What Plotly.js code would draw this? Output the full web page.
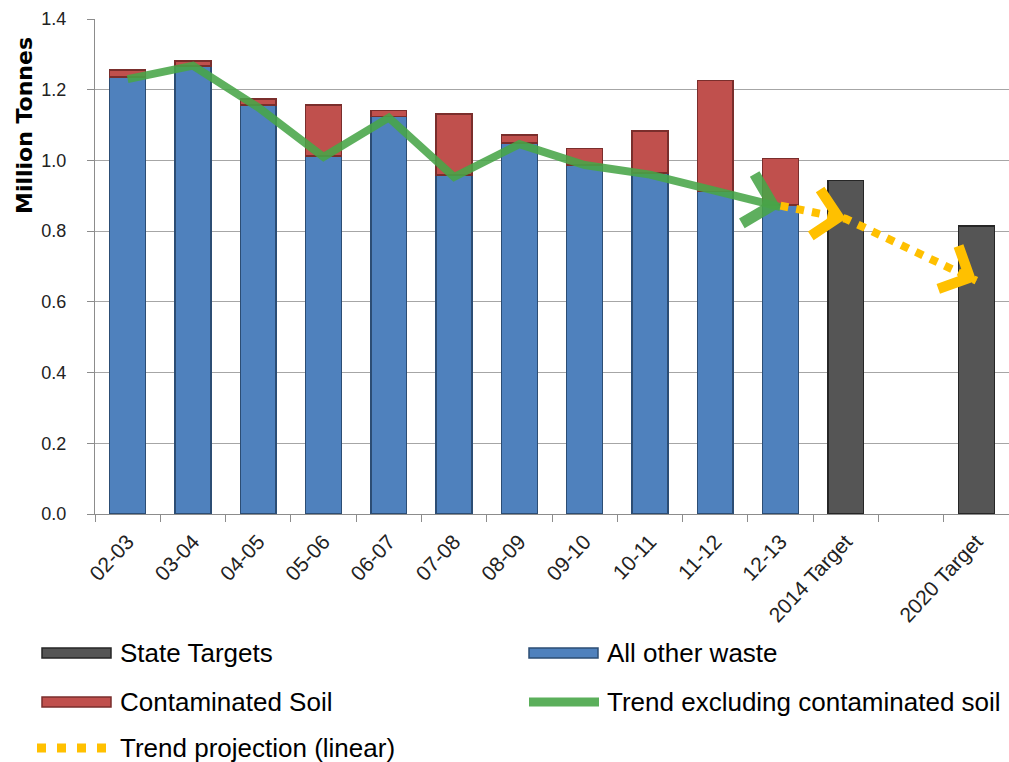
<!DOCTYPE html>
<html>
<head>
<meta charset="utf-8">
<script src="https://cdn.plot.ly/plotly-3.0.1.min.js"></script>
<style>html,body{margin:0;padding:0;background:#fff;}#chart{width:1009px;height:762px;}</style>
</head>
<body>
<div id="chart"></div>
<script>
// ---- data ----
const categories = ['02-03','03-04','04-05','05-06','06-07','07-08','08-09','09-10','10-11','11-12','12-13','2014 Target',' ','2020 Target'];
const yearCats = ['02-03','03-04','04-05','05-06','06-07','07-08','08-09','09-10','10-11','11-12','12-13'];
const allOtherWaste = [1.236,1.267,1.157,1.012,1.124,0.959,1.050,0.987,0.964,0.912,0.874];
const contaminatedSoil = [0.020,0.014,0.017,0.145,0.017,0.172,0.022,0.047,0.119,0.314,0.132];
const targetCats = ['2014 Target','2020 Target'];
const stateTargets = [0.943,0.815];
const trendExclSoil = [1.230,1.268,1.150,1.010,1.121,0.953,1.046,0.987,0.960,0.916,0.868];
const projCats = ['12-13','2014 Target','2020 Target'];
const trendProjection = [0.872,0.835,0.660];
const legendNames = ['State Targets','All other waste','Contaminated Soil','Trend excluding contaminated soil','Trend projection (linear)'];

const FONT = 'Liberation Sans, Arial, sans-serif';
const BLUE = '#4F81BD', BLUE_D = '#2C4D74';
const RED = '#C0504D', RED_D = '#7A2E2C';
const GREY = '#555555', GREY_D = '#262626';
const GREEN = 'rgba(72,165,72,0.88)';
const YELLOW = '#FFC000';

const traces = [
  {type:'bar', name:legendNames[1], x:yearCats, y:allOtherWaste, showlegend:false,
   marker:{color:BLUE, line:{color:BLUE_D, width:1.5}}},
  {type:'bar', name:legendNames[2], x:yearCats, y:contaminatedSoil, showlegend:false,
   marker:{color:RED, line:{color:RED_D, width:1.5}}},
  {type:'bar', name:legendNames[0], x:targetCats, y:stateTargets, showlegend:false,
   marker:{color:GREY, line:{color:GREY_D, width:1.5}}},
  {type:'scatter', mode:'lines', name:legendNames[3], x:yearCats, y:trendExclSoil, showlegend:false,
   line:{color:GREEN, width:8}},
  {type:'scatter', mode:'lines', name:legendNames[4], x:projCats, y:trendProjection, showlegend:false,
   line:{color:YELLOW, width:8, dash:'dot'}}
];

function arrowAt(xs, ys, i, color, width, size){
  const i2 = categories.indexOf(xs[i]);
  const i1 = categories.indexOf(xs[i-1]);
  const f = 0.3/(i2-i1);
  return {x:i2, y:ys[i], ax:i2 - f*(i2-i1), ay:ys[i] - f*(ys[i]-ys[i-1]),
    xref:'x', yref:'y', axref:'x', ayref:'y', text:'', showarrow:true,
    arrowhead:4, arrowsize:size, arrowwidth:width, arrowcolor:color};
}

// plot area: x 95..1009 px, y 19..514 px
const PX = px => (px-95)/914;
const PY = py => (514-py)/495;

const annotations = [
  arrowAt(yearCats, trendExclSoil, yearCats.length-1, GREEN, 7, 1.4),
  arrowAt(projCats, trendProjection, 1, YELLOW, 7, 1.3),
  arrowAt(projCats, trendProjection, 2, YELLOW, 7, 1.3),
  {text:'<b>Million Tonnes</b>', xref:'paper', yref:'paper', x:PX(25), y:PY(126), textangle:-90,
   showarrow:false, font:{family:'DejaVu Sans, Verdana, sans-serif', size:22, color:'#000'}, xanchor:'center', yanchor:'middle'}
];

// custom legend (two columns, three rows)
const legendRows = [653, 702, 748];
const legendCols = [118, 605];
const legendPos = [[0,0],[1,0],[0,1],[1,1],[0,2]];
legendNames.forEach((n,k)=>{
  const [c,r] = legendPos[k];
  annotations.push({text:n, xref:'paper', yref:'paper', x:PX(legendCols[c]), y:PY(legendRows[r]),
    xanchor:'left', yanchor:'middle', showarrow:false, font:{family:FONT, size:26, color:'#000'}});
});
const shapes = [
  {type:'rect', xref:'paper', yref:'paper', x0:PX(42), x1:PX(111), y0:PY(648), y1:PY(658), fillcolor:GREY, line:{color:GREY_D, width:1.5}},
  {type:'rect', xref:'paper', yref:'paper', x0:PX(529), x1:PX(598), y0:PY(648), y1:PY(658), fillcolor:BLUE, line:{color:BLUE_D, width:1.5}},
  {type:'rect', xref:'paper', yref:'paper', x0:PX(42), x1:PX(111), y0:PY(697), y1:PY(707), fillcolor:RED, line:{color:RED_D, width:1.5}},
  {type:'line', xref:'paper', yref:'paper', x0:PX(529), x1:PX(599), y0:PY(702), y1:PY(702), line:{color:'#5BAF5B', width:9}},
  {type:'line', xref:'paper', yref:'paper', x0:PX(37), x1:PX(106), y0:PY(748), y1:PY(748), line:{color:YELLOW, width:9, dash:'9px,11px'}}
];

const layout = {
  width:1009, height:762,
  margin:{l:95, r:0, t:19, b:248, autoexpand:false},
  paper_bgcolor:'#fff', plot_bgcolor:'#fff',
  barmode:'stack', bargap:0.45,
  font:{family:FONT, size:18, color:'#222'},
  xaxis:{type:'category', categoryorder:'array', categoryarray:categories,
    tickvals:categories, ticktext:categories, range:[-0.5,13.5],
    showline:true, linecolor:'#8C8C8C', linewidth:1, ticks:'outside', tickson:'boundaries',
    ticklen:7, tickcolor:'#8C8C8C', tickangle:-47, tickfont:{family:FONT, size:21, color:'#222'},
    ticklabelstandoff:6, showgrid:false, fixedrange:true, automargin:false},
  yaxis:{range:[0,1.4], dtick:0.2, tickformat:'.1f', showline:true, linecolor:'#8C8C8C', linewidth:1,
    ticks:'outside', ticklen:7, tickcolor:'#8C8C8C', showgrid:true, gridcolor:'#A6A6A6', gridwidth:1,
    zeroline:false, tickfont:{family:FONT, size:18, color:'#222'}, ticklabelstandoff:17,
    fixedrange:true, automargin:false},
  showlegend:false,
  annotations:annotations,
  shapes:shapes
};

Plotly.newPlot('chart', traces, layout, {displayModeBar:false, staticPlot:true});
</script>
</body>
</html>
